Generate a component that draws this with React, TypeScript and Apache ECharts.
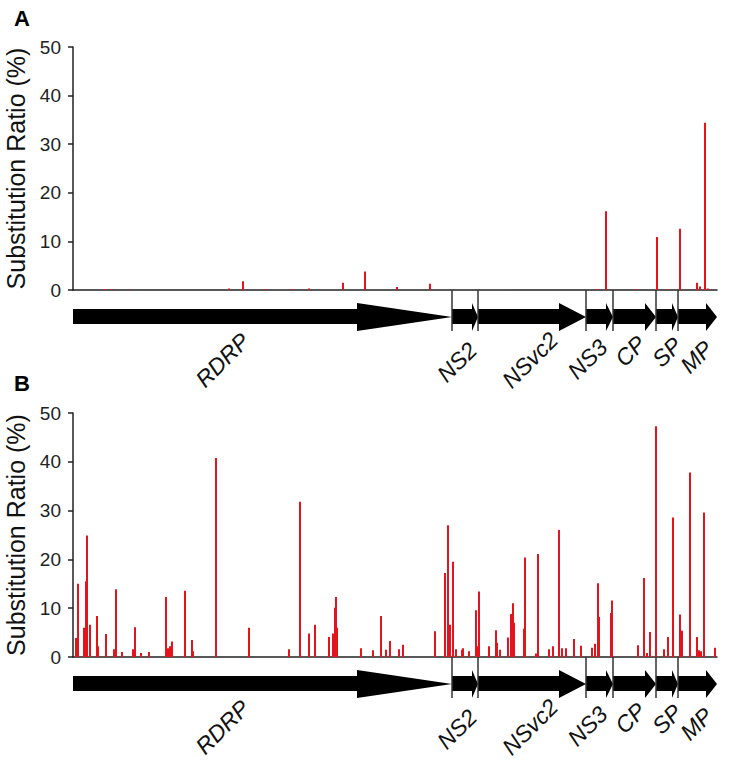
import React, { useEffect, useRef } from "react";
import * as echarts from "echarts";

// Genome coordinate (approx. nt) of the concatenated coding regions
const genomeLength = 15456;
const geneNames = ["RDRP", "NS2", "NSvc2", "NS3", "CP", "SP", "MP"];
const geneStarts = [0, 9096, 9720, 12312, 12960, 13992, 14520];
const geneEnds = [9096, 9720, 12312, 12960, 13992, 14520, 15456];

const yMin = 0;
const yMax = 50;
const yStep = 10;

// Panel A
const posA = [768, 936, 1368, 3744, 4080, 4632, 5256, 5664, 6480, 7008, 7776, 8568, 12576, 12792, 13512, 14016, 14280, 14568, 14976, 15048, 15168, 15240];
const valA = [0.2, 0.2, 0.1, 0.3, 1.8, 0.2, 0.2, 0.3, 1.5, 3.8, 0.6, 1.3, 0.2, 16.2, 0.2, 10.9, 0.2, 12.6, 1.5, 0.7, 34.4, 0.3];

// Panel B
const posB = [72, 120, 264, 312, 336, 408, 576, 600, 792, 984, 1032, 1176, 1440, 1488, 1632, 1824, 2232, 2280, 2328, 2376, 2688, 2856, 2880, 3432, 4224, 5184, 5448, 5664, 5808, 6144, 6240, 6288, 6312, 6336, 6912, 7200, 7392, 7512, 7608, 7824, 7920, 8688, 8928, 9000, 9048, 9120, 9192, 9336, 9360, 9504, 9672, 9720, 9744, 9984, 10152, 10176, 10248, 10440, 10512, 10560, 10584, 10824, 10848, 11112, 11160, 11424, 11520, 11664, 11736, 11832, 12024, 12192, 12456, 12528, 12600, 12624, 12912, 12936, 13560, 13704, 13776, 13848, 13992, 14184, 14280, 14400, 14568, 14616, 14808, 14976, 15024, 15072, 15144, 15408];
const valB = [3.9, 15.0, 6.0, 15.5, 24.9, 6.6, 8.4, 2.2, 4.7, 1.6, 13.9, 1.0, 1.6, 6.1, 0.8, 1.0, 12.3, 1.8, 2.2, 3.2, 13.6, 3.5, 1.2, 40.8, 6.0, 1.6, 31.8, 4.8, 6.6, 4.1, 4.8, 10.1, 12.3, 6.0, 1.8, 1.4, 8.4, 1.5, 3.3, 1.6, 2.5, 5.3, 17.2, 27.0, 6.6, 19.5, 1.6, 1.5, 1.8, 1.2, 9.6, 2.2, 13.4, 2.2, 5.5, 2.9, 1.5, 4.0, 8.8, 11.0, 7.0, 5.8, 20.4, 0.7, 21.1, 1.6, 2.2, 26.0, 1.8, 1.8, 3.7, 2.3, 1.9, 2.7, 15.1, 8.2, 9.0, 11.6, 2.4, 16.2, 0.8, 5.1, 47.3, 1.6, 4.1, 28.6, 8.7, 5.4, 37.8, 4.1, 1.4, 1.2, 29.6, 1.9];

const panelLabels = ["A", "B"];
const yTitle = "Substitution Ratio (%)";

// styling (pixels)
const headPx = [95, 6, 27, 7, 11, 6, 11];
const labelDx = [-40, -8, -2, -12, -4, 0, -1];
const labelDy = [70, 72, 70, 69, 61, 62, 67];
const FONT = "'Liberation Sans', Arial, sans-serif";
const grids = [
  { left: 73, top: 47, width: 644, height: 243, containLabel: false, outerBoundsMode: "none" },
  { left: 73, top: 413, width: 644, height: 244, containLabel: false, outerBoundsMode: "none" },
];

function renderGene(params: any, api: any) {
  const s = api.value(0);
  const e = api.value(1);
  const j = api.value(2);
  const a = api.coord([s, 0]);
  const b = api.coord([e, 0]);
  const x0 = a[0];
  const x1 = b[0];
  const y0 = a[1];
  const h = headPx[j];
  const children: any[] = [
    {
      type: "polygon",
      shape: {
        points: [
          [x0, y0 + 19],
          [x1 - h, y0 + 19],
          [x1 - h, y0 + 13],
          [x1, y0 + 27],
          [x1 - h, y0 + 41],
          [x1 - h, y0 + 34],
          [x0, y0 + 34],
        ],
      },
      style: { fill: "#000" },
    },
  ];
  if (j > 0) {
    children.push({
      type: "line",
      shape: { x1: x0, y1: y0, x2: x0, y2: y0 + 41 },
      style: { stroke: "#333", lineWidth: 1.5 },
    });
  }
  children.push({
    type: "text",
    x: (x0 + x1) / 2 + labelDx[j],
    y: y0 + labelDy[j],
    rotation: Math.PI / 4,
    style: {
      text: geneNames[j],
      fontSize: 23,
      fontStyle: "italic",
      fontFamily: FONT,
      fill: "#111",
      align: "center",
      verticalAlign: "middle",
    },
  });
  return { type: "group", children };
}

function buildOption() {
  const panels = [
    { pos: posA, val: valA },
    { pos: posB, val: valB },
  ];
  const axisLine = { show: true, lineStyle: { color: "#222", width: 1.5 } };
  return {
    animation: false,
    backgroundColor: "#fff",
    grid: grids,
    xAxis: grids.map((_, i) => ({
      type: "value",
      gridIndex: i,
      min: 0,
      max: genomeLength,
      axisLine,
      axisTick: { show: false },
      axisLabel: { show: false },
      splitLine: { show: false },
    })),
    yAxis: grids.map((_, i) => ({
      type: "value",
      gridIndex: i,
      min: yMin,
      max: yMax,
      interval: yStep,
      axisLine,
      axisTick: { show: true, length: 5, lineStyle: { color: "#222", width: 1.5 } },
      axisLabel: { fontSize: 19, color: "#222", margin: 12, fontFamily: FONT },
      splitLine: { show: false },
      name: yTitle,
      nameLocation: "middle",
      nameGap: 39,
      nameTextStyle: { fontSize: 25, color: "#111", fontFamily: FONT },
    })),
    graphic: panelLabels.map((t, i) => ({
      type: "text",
      left: 14,
      top: i === 0 ? 7 : 372,
      style: { text: t, fontSize: 22, fontWeight: "bold", fontFamily: FONT, fill: "#000" },
    })),
    series: [
      ...panels.map((p, i) => ({
        type: "bar",
        xAxisIndex: i,
        yAxisIndex: i,
        barWidth: 2,
        silent: true,
        itemStyle: { color: "#e3141c" },
        data: p.pos.map((x, k) => [x, p.val[k]]),
      })),
      ...panels.map((_, i) => ({
        type: "custom",
        xAxisIndex: i,
        yAxisIndex: i,
        clip: false,
        silent: true,
        renderItem: renderGene,
        data: geneNames.map((_n, j) => [geneStarts[j], geneEnds[j], j]),
      })),
    ],
  };
}

export default function App() {
  const ref = useRef<HTMLDivElement>(null);
  useEffect(() => {
    if (!ref.current) return;
    const chart = echarts.init(ref.current, null, { renderer: "svg" });
    chart.setOption(buildOption() as any);
    return () => chart.dispose();
  }, []);
  return (
    <div
      ref={ref}
      style={{ position: "fixed", left: 0, top: 0, width: 746, height: 764, background: "#fff" }}
    />
  );
}
